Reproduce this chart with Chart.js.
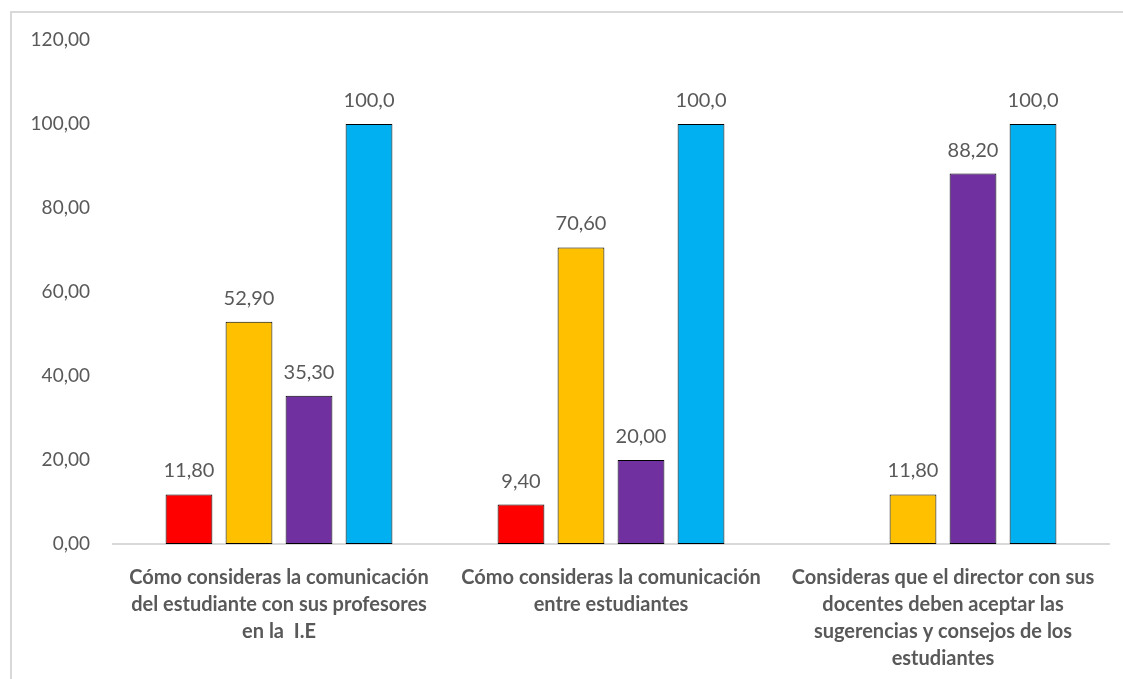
<!DOCTYPE html>
<html>
<head>
<meta charset="utf-8">
<script src="https://cdn.jsdelivr.net/npm/chart.js@4"></script>
<style>
  html, body { margin: 0; padding: 0; background: #fff; overflow: hidden; }
  #frame { position: absolute; left: 10px; top: 11px; width: 1200px; height: 800px;
           border-top: 2px solid #d9d9d9; border-left: 2px solid #d9d9d9; }
  #wrap { position: absolute; left: 0; top: 0; width: 1123px; height: 679px; }
</style>
</head>
<body>
<div id="frame"></div>
<div id="wrap"><canvas id="chart"></canvas></div>
<script>
// Datos del gráfico
const categorias = [
    ['Cómo consideras la comunicación', 'del estudiante con sus profesores', 'en la  I.E'],
    ['Cómo consideras la comunicación', 'entre estudiantes'],
    ['Consideras que el director con sus', 'docentes deben aceptar las', 'sugerencias y consejos de los', 'estudiantes']
];
const serieRoja = [11.8, 9.4, null];
const serieAmarilla = [52.9, 70.6, 11.8];
const serieMorada = [35.3, 20.0, 88.2];
const serieAzul = [100, 100, 100];
const decimales = [2, 2, 2, 1];
const ticksY = [0, 20, 40, 60, 80, 100, 120];

const gris = '#595959';
const fuente = 'Lato, "Open Sans", sans-serif';

// Etiquetas de valor encima de cada barra
const etiquetas = {
    id: 'etiquetas',
    afterDatasetsDraw(chart) {
        const ctx = chart.ctx;
        ctx.save();
        ctx.font = '20px ' + fuente;
        ctx.fillStyle = gris;
        ctx.textAlign = 'center';
        ctx.textBaseline = 'alphabetic';
        chart.data.datasets.forEach((ds, i) => {
            chart.getDatasetMeta(i).data.forEach((bar, j) => {
                const v = ds.data[j];
                if (v === null || v === undefined) return;
                const txt = v.toFixed(decimales[i]).replace('.', ',');
                ctx.fillText(txt, bar.x, bar.y - 17);
            });
        });
        ctx.restore();
    }
};

const barra = (label, data, color) => ({
    label, data,
    backgroundColor: color,
    borderColor: '#000000',
    borderWidth: 1,
    borderSkipped: false,
    categoryPercentage: 0.723,
    barPercentage: 0.78
});

new Chart(document.getElementById('chart'), {
    type: 'bar',
    data: {
        labels: categorias,
        datasets: [
            barra('Serie 1', serieRoja, '#FF0000'),
            barra('Serie 2', serieAmarilla, '#FFC000'),
            barra('Serie 3', serieMorada, '#7030A0'),
            barra('Serie 4', serieAzul, '#00B0F0')
        ]
    },
    options: {
        responsive: true,
        maintainAspectRatio: false,
        animation: false,
        layout: { padding: { top: 40, right: 14, left: 0, bottom: 0 } },
        scales: {
            x: {
                grid: { display: false, drawTicks: false },
                border: { display: true, color: '#d9d9d9', width: 2 },
                ticks: {
                    color: gris,
                    font: { family: fuente, size: 20, weight: 'bold', lineHeight: 1.35 },
                    maxRotation: 0, autoSkip: false, padding: 20
                },
                afterFit(scale) { scale.height = 679 - 544; }
            },
            y: {
                min: 0, max: 120,
                afterBuildTicks(scale) { scale.ticks = ticksY.map(v => ({ value: v })); },
                grid: { display: false, drawTicks: false },
                border: { display: false },
                ticks: {
                    color: gris,
                    font: { family: fuente, size: 19 },
                    padding: 23,
                    callback: v => v.toFixed(2).replace('.', ',')
                },
                afterFit(scale) { scale.width = 113; }
            }
        },
        plugins: {
            legend: { display: false },
            tooltip: { enabled: false }
        }
    },
    plugins: [etiquetas]
});
</script>
</body>
</html>
